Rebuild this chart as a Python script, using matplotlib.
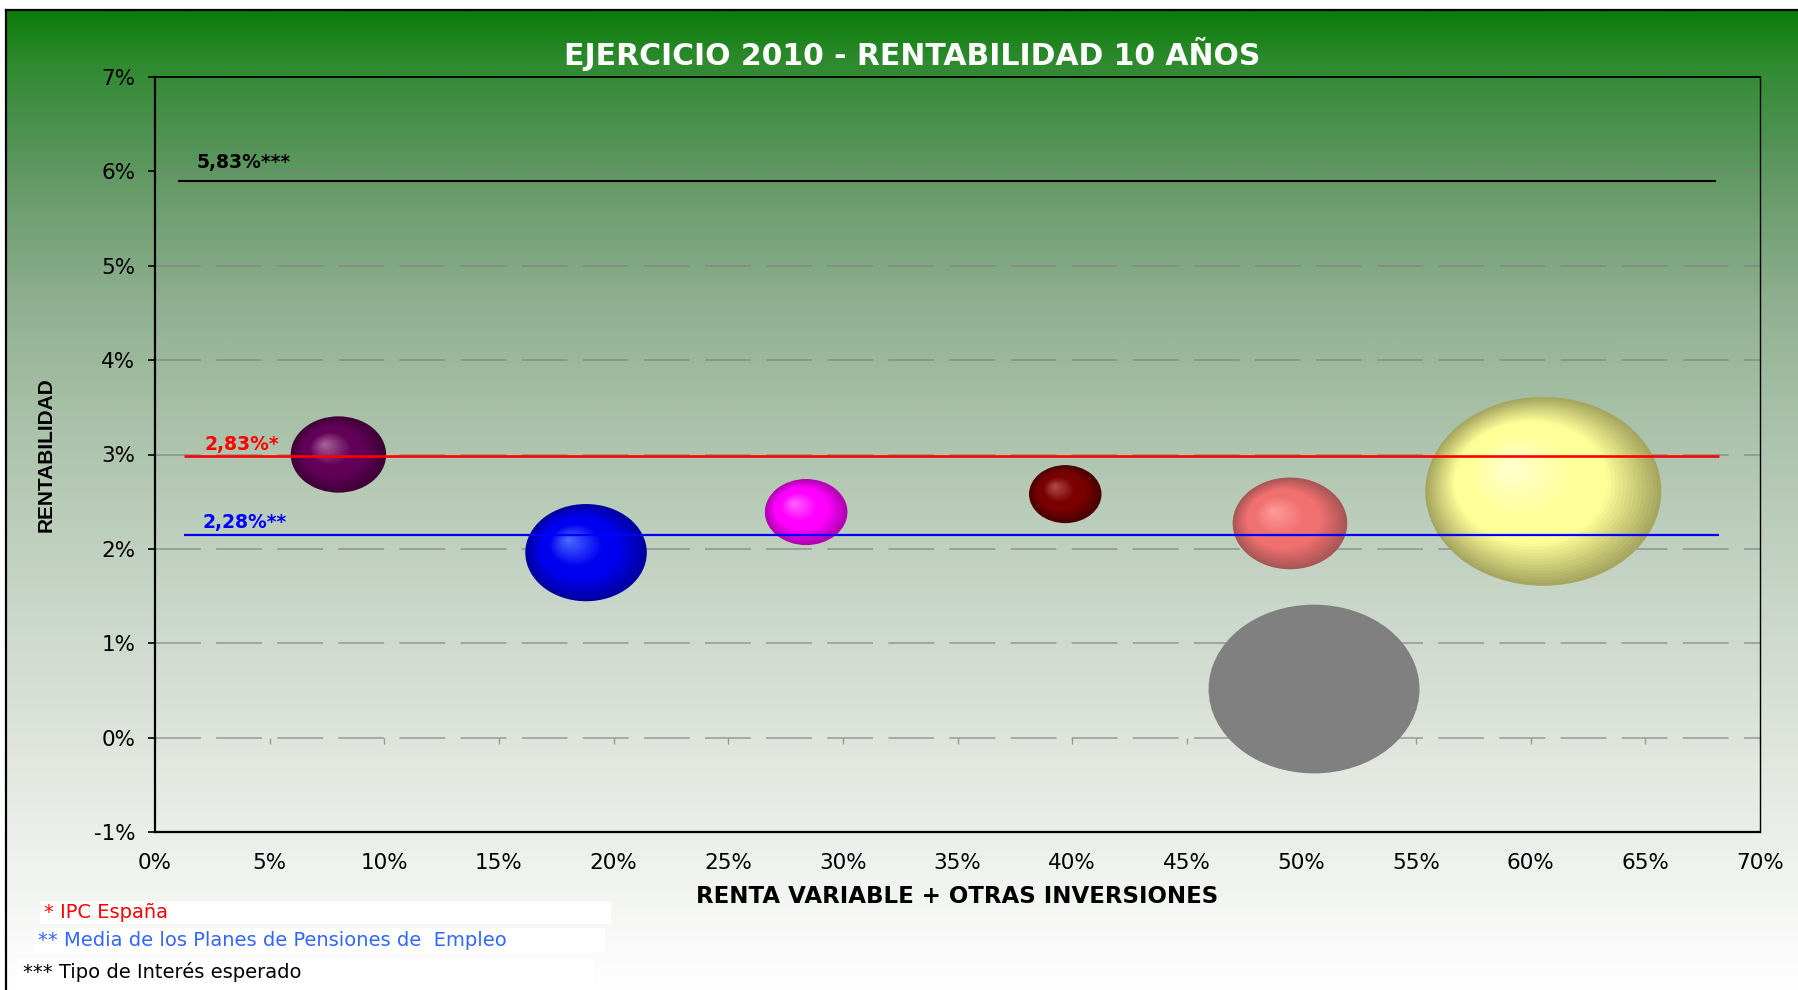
import numpy as np
import matplotlib
matplotlib.use("Agg")
import matplotlib.pyplot as plt
from matplotlib.patches import Ellipse, Rectangle
from matplotlib.colors import LinearSegmentedColormap, to_rgb

plt.rcParams['font.family'] = ['DejaVu Sans']

# ---------------- data ----------------
title = "EJERCICIO 2010 - RENTABILIDAD 10 AÑOS"
x_label = "RENTA VARIABLE + OTRAS INVERSIONES"
y_label = "RENTABILIDAD"

x_ticks = list(range(0, 75, 5))
y_ticks = list(range(-1, 8))
x_tick_labels = [f"{v}%" for v in x_ticks]
y_tick_labels = [f"{v}%" for v in y_ticks]

bubble_x = [8.0, 18.8, 28.4, 39.7, 49.5, 50.55, 60.55]
bubble_y = [3.00, 1.96, 2.39, 2.58, 2.27, 0.515, 2.61]
bubble_r = [2.08, 2.65, 1.80, 1.58, 2.50, 4.60, 5.15]     # radius, x units
bubble_edge = ["#3e0036", "#0000a0", "#b000b0", "#480000", "#a85555", "#808080", "#a6a660"]
bubble_body = ["#620058", "#0000f0", "#ff00ff", "#7a0000", "#f07070", "#808080", "#ffff99"]
bubble_high = ["#a8689a", "#5070ff", "#ff66ff", "#b05050", "#ff9c9c", "#808080", "#ffffd2"]

ref_labels = ["5,83%***", "2,83%*", "2,28%**"]
ref_y = [5.90, 2.98, 2.15]
ref_x0 = [1.0, 1.25, 1.25]
ref_x1 = [68.1, 68.2, 68.2]
ref_colors = ["#000000", "#ff0000", "#0000ff"]
ref_label_x = [1.83, 2.14, 2.09]
ref_label_y = [6.09, 3.11, 2.28]

note_texts = ["* IPC España",
              "** Media de los Planes de Pensiones de  Empleo",
              "*** Tipo de Interés esperado"]
note_colors = ["#ff0000", "#3366ff", "#000000"]

# ---------------- figure ----------------
W, H = 1798, 990
fig = plt.figure(figsize=(W / 100, H / 100), dpi=100)
fig.patch.set_facecolor("white")

# background gradient panel
bg = fig.add_axes([6 / W, 0, 1 - 6 / W, 1 - 10 / H], zorder=0)
stops = [(0.00, "#0a7d0a"), (0.05, "#2e8a2e"), (0.12, "#4d9150"), (0.20, "#6e9e70"),
         (0.30, "#90b090"), (0.40, "#a5bfa5"), (0.50, "#b8cbb8"), (0.60, "#c8d6c8"),
         (0.70, "#d8e0d6"), (0.80, "#e6eae4"), (0.90, "#f2f4f1"), (1.00, "#ffffff")]
cmap = LinearSegmentedColormap.from_list("bg", stops)
grad = np.linspace(0, 1, 600).reshape(-1, 1)
bg.imshow(grad, aspect="auto", cmap=cmap, extent=[0, 1, 0, 1], origin="upper")
bg.set_xlim(0, 1)
bg.set_ylim(0, 1)
bg.set_xticks([])
bg.set_yticks([])
for s in ["right", "bottom"]:
    bg.spines[s].set_visible(False)
for s in ["top", "left"]:
    bg.spines[s].set_linewidth(1.6)
    bg.spines[s].set_color("black")

# main axes
ax = fig.add_axes([155 / W, 1 - 832 / H, 1605 / W, 755 / H], zorder=1)
ax.set_facecolor("none")
ax.set_xlim(0, 70)
ax.set_ylim(-1, 7)
ax.set_xticks(x_ticks)
ax.set_xticklabels(x_tick_labels, fontsize=15.5)
ax.set_yticks(y_ticks)
ax.set_yticklabels(y_tick_labels, fontsize=15.5)
ax.tick_params(axis="x", length=0, pad=15)
ax.tick_params(axis="y", length=5, width=1.2, direction="out", pad=9)
ax.spines["left"].set_linewidth(1.6)
ax.spines["bottom"].set_linewidth(1.6)
ax.spines["top"].set_linewidth(1.3)
ax.spines["right"].set_linewidth(1.0)

ax.set_axisbelow(True)
ax.grid(axis="y", color="#808080", alpha=0.75, lw=1.1, linestyle=(0, (30, 10)))
ax.grid(axis="x", visible=False)

# small x tick marks on the 0% line (axis crosses at 0)
sec = ax.secondary_xaxis(0, transform=ax.transData)
sec.set_xticks(x_ticks)
sec.tick_params(axis="x", length=4, width=1.0, color="#999999", direction="out",
                labelbottom=False)
for s in sec.spines.values():
    s.set_visible(False)

# bubbles with radial shading
p0 = ax.transData.transform((0, 0))
p1 = ax.transData.transform((1, 1))
sx, sy = p1[0] - p0[0], p1[1] - p0[1]
ELL = 0.80  # vertical/horizontal pixel ratio of the bubbles
HX, HY = -0.30, 0.27


def shade(edge, body, high, t):
    e, b, h = np.array(to_rgb(edge)), np.array(to_rgb(body)), np.array(to_rgb(high))
    if t < 0.35:
        return e + (b - e) * (t / 0.35)
    if t < 0.55:
        return b
    return b + (h - b) * ((t - 0.55) / 0.45)


N = 40
for x, y, r, ce, cb, ch in zip(bubble_x, bubble_y, bubble_r, bubble_edge, bubble_body, bubble_high):
    ry = r * ELL * sx / sy
    for k in range(N):
        t = k / N
        sc = 1 - t
        cx = x + t * HX * r
        cy = y + t * HY * ry
        ax.add_patch(Ellipse((cx, cy), 2 * r * sc, 2 * ry * sc,
                             facecolor=shade(ce, cb, ch, t), edgecolor="none",
                             lw=0, zorder=2))

# reference lines and labels
line_widths = [1.5, 1.9, 1.6]
for lab, yv, x0, x1, c, lx, ly, lw in zip(ref_labels, ref_y, ref_x0, ref_x1, ref_colors,
                                          ref_label_x, ref_label_y, line_widths):
    ax.plot([x0, x1], [yv, yv], color=c, lw=lw, zorder=5, solid_capstyle="butt")
    ax.text(lx, ly, lab, color=c, fontsize=13.5, fontweight="bold",
            ha="left", va="center", zorder=6)

# axis labels
ax.set_xlabel(x_label, fontsize=16.5, fontweight="bold")
ax.xaxis.label.set_va("center")
ax.xaxis.set_label_coords(0.5, -0.086)
ax.set_ylabel(y_label, fontsize=15, fontweight="bold", family=["Liberation Sans", "DejaVu Sans"])
ax.yaxis.label.set_va("center")
ax.yaxis.set_label_coords(-0.068, 0.5)

# title
fig.text(912 / W, 1 - 54 / H, title, color="white", fontsize=21.5, fontweight="bold",
         ha="center", va="center", zorder=3)

# footnotes in white boxes
boxes = [(40, 901, 571, 23), (34, 928, 571, 24), (17, 959, 577, 27)]
text_pos = [(44, 913), (38, 940), (23, 972)]
for (bx, by, bw, bh), (tx, ty), txt, col in zip(boxes, text_pos, note_texts, note_colors):
    fig.patches.append(Rectangle((bx / W, 1 - (by + bh) / H), bw / W, bh / H,
                                 transform=fig.transFigure, facecolor="white",
                                 edgecolor="none", zorder=2))
    fig.text(tx / W, 1 - ty / H, txt, color=col, fontsize=14, ha="left",
             va="center", zorder=3)

fig.savefig("out.png", dpi=100)
